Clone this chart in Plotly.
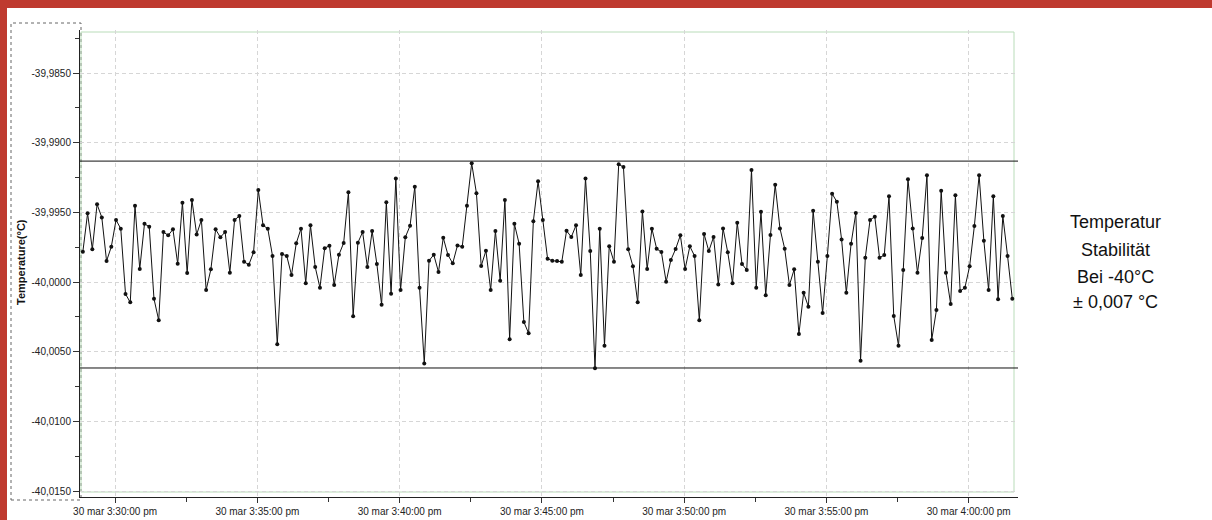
import pandas as pd
import plotly.graph_objects as go

# ---------------- data ----------------
temps = [
    -39.99783, -39.99507, -39.99765, -39.99442, -39.99536, -39.99849, -39.99747, -39.99555, -39.99617, -40.00086,
    -40.00146, -39.99452, -39.99907, -39.99582, -39.99603, -40.00120, -40.00275, -39.99641, -39.99665, -39.99622,
    -39.99869, -39.99431, -39.99935, -39.99411, -39.99658, -39.99555, -40.00057, -39.99909, -39.99622, -39.99679,
    -39.99641, -39.99933, -39.99555, -39.99526, -39.99854, -39.99876, -39.99787, -39.99340, -39.99593, -39.99617,
    -39.99813, -40.00447, -39.99799, -39.99813, -39.99950, -39.99722, -39.99617, -40.00009, -39.99593, -39.99892,
    -40.00041, -39.99758, -39.99739, -40.00022, -39.99804, -39.99720, -39.99356, -40.00246, -39.99718, -39.99641,
    -39.99892, -39.99634, -39.99871, -40.00163, -39.99428, -40.00084, -39.99256, -40.00057, -39.99679, -39.99596,
    -39.99316, -40.00041, -40.00584, -39.99847, -39.99804, -39.99928, -39.99682, -39.99806, -39.99866, -39.99737,
    -39.99747, -39.99452, -39.99148, -39.99363, -39.99885, -39.99775, -40.00057, -39.99634, -39.99991, -39.99411,
    -40.00411, -39.99582, -39.99725, -40.00287, -40.00368, -39.99564, -39.99277, -39.99555, -39.99833, -39.99847,
    -39.99849, -39.99854, -39.99632, -39.99677, -39.99593, -39.99950, -39.99256, -39.99778, -40.00619, -39.99617,
    -40.00457, -39.99744, -39.99854, -39.99155, -39.99175, -39.99765, -39.99887, -40.00146, -39.99493, -39.99907,
    -39.99617, -39.99761, -39.99785, -39.99998, -39.99842, -39.99763, -39.99665, -39.99907, -39.99744, -39.99813,
    -40.00275, -39.99655, -39.99778, -39.99677, -40.00017, -39.99615, -39.99787, -40.00009, -39.99574, -39.99871,
    -39.99914, -39.99196, -40.00041, -39.99495, -40.00095, -39.99663, -39.99302, -39.99615, -39.99761, -40.00022,
    -39.99909, -40.00373, -40.00077, -40.00177, -39.99488, -39.99854, -40.00222, -39.99813, -39.99366, -39.99424,
    -39.99694, -40.00077, -39.99725, -39.99505, -40.00565, -39.99826, -39.99555, -39.99531, -39.99826, -39.99806,
    -39.99385, -40.00244, -40.00457, -39.99914, -39.99263, -39.99615, -39.99933, -39.99684, -39.99234, -40.00416,
    -40.00201, -39.99345, -39.99933, -40.00158, -39.99378, -40.00065, -40.00041, -39.99887, -39.99598, -39.99234,
    -39.99704, -40.00057, -39.99385, -40.00124, -39.99526, -39.99813, -40.00120,
]
sample_start = "2015-03-30 15:28:52"
sample_interval = "10s"

upper_limit = -39.99132
lower_limit = -40.00617

y_range = [-40.01543, -39.98191]
y_tick_vals = [-40.015, -40.010, -40.005, -40.000, -39.995, -39.990, -39.985]
y_tick_text = ["-40,0150", "-40,0100", "-40,0050", "-40,0000", "-39,9950", "-39,9900", "-39,9850"]

x_range = ["2015-03-30 15:28:46", "2015-03-30 16:01:44"]
x_tick_vals = ["2015-03-30 15:30:00", "2015-03-30 15:35:00", "2015-03-30 15:40:00",
               "2015-03-30 15:45:00", "2015-03-30 15:50:00", "2015-03-30 15:55:00",
               "2015-03-30 16:00:00"]
x_tick_text = ["30 mar 3:30:00 pm", "30 mar 3:35:00 pm", "30 mar 3:40:00 pm",
               "30 mar 3:45:00 pm", "30 mar 3:50:00 pm", "30 mar 3:55:00 pm",
               "30 mar 4:00:00 pm"]

y_title = "Temperature(°C)"
side_text = ["Temperatur", "Stabilität", "Bei -40°C", "± 0,007 °C"]

times = pd.date_range(sample_start, periods=len(temps), freq=sample_interval)

# ---------------- geometry ----------------
W, H = 1212, 520
L, R, T, B = 80, 194, 30, 23
PW, PH = W - L - R, H - T - B


def px_x(x):
    return (x - L) / PW


def px_y(y):
    return (H - B - y) / PH


RED = "#bf3a2f"
FONT = "Liberation Sans, Arial, sans-serif"
GRID = "#d6d6d6"

fig = go.Figure()
fig.add_trace(go.Scatter(
    x=times, y=temps, mode="lines+markers",
    line=dict(color="#111111", width=1),
    marker=dict(color="#111111", size=4),
    hoverinfo="skip", showlegend=False,
))

shapes = [
    dict(type="rect", xref="paper", yref="paper",
         x0=px_x(7), x1=px_x(W + 20), y0=px_y(H + 20), y1=px_y(8),
         fillcolor="white", line=dict(width=0), layer="below"),
    dict(type="rect", xref="paper", yref="paper",
         x0=px_x(11), x1=px_x(81), y0=px_y(500), y1=px_y(23),
         line=dict(color="#666666", width=1, dash="dot"), layer="below"),
    dict(type="rect", xref="paper", yref="paper",
         x0=px_x(81), x1=px_x(1014), y0=px_y(492), y1=px_y(32),
         line=dict(color="#b9dcb9", width=1), layer="below"),
    dict(type="line", xref="paper", yref="y", x0=0, x1=1, y0=upper_limit, y1=upper_limit,
         line=dict(color="#111111", width=1)),
    dict(type="line", xref="paper", yref="y", x0=0, x1=1, y0=lower_limit, y1=lower_limit,
         line=dict(color="#111111", width=1)),
]

annotations = [
    dict(text="<b>%s</b>" % y_title, xref="paper", yref="paper",
         x=px_x(21), y=px_y(262), textangle=-90, showarrow=False,
         xanchor="center", yanchor="middle",
         font=dict(family=FONT, size=11, color="#111111")),
]
side_y = [222, 250, 277, 302]
for txt, yy in zip(side_text, side_y):
    annotations.append(dict(
        text=txt, xref="paper", yref="paper", x=px_x(1115), y=px_y(yy),
        showarrow=False, xanchor="center", yanchor="middle",
        font=dict(family="Liberation Sans Narrow, " + FONT, size=18, color="#111111")))

fig.update_layout(
    template="none",
    width=W, height=H, autosize=False,
    margin=dict(l=L, r=R, t=T, b=B, pad=0),
    paper_bgcolor=RED, plot_bgcolor="rgba(0,0,0,0)",
    font=dict(family=FONT, size=10, color="#222222"),
    showlegend=False,
    shapes=shapes, annotations=annotations,
    xaxis=dict(
        type="date", range=x_range, automargin=False,
        tickmode="array", tickvals=x_tick_vals, ticktext=x_tick_text,
        ticks="outside", ticklen=5, tickcolor="#333333",
        showline=True, linecolor="#222222", linewidth=1,
        showgrid=True, gridcolor=GRID, griddash="4px,3px", gridwidth=1,
        zeroline=False, tickfont=dict(size=10, color="#222222"),
        minor=dict(tickmode="linear", tick0="2015-03-30 15:30:00", dtick=150000,
                   ticks="outside", ticklen=4, tickcolor="#333333", showgrid=False),
    ),
    yaxis=dict(
        range=y_range, automargin=False,
        tickmode="array", tickvals=y_tick_vals, ticktext=y_tick_text,
        ticks="outside", ticklen=6, tickcolor="#333333",
        showline=True, linecolor="#222222", linewidth=1,
        showgrid=True, gridcolor=GRID, griddash="4px,3px", gridwidth=1,
        zeroline=False, tickfont=dict(size=10, color="#222222"),
        minor=dict(tickmode="linear", tick0=-40.0, dtick=0.0025,
                   ticks="outside", ticklen=4, tickcolor="#333333", showgrid=False),
    ),
    yaxis2=dict(
        overlaying="y", side="right", range=[0, PH / 20.0], automargin=False,
        tickmode="linear", tick0=0.05, dtick=1,
        ticks="outside", ticklen=4, tickcolor="#333333",
        showticklabels=False, showgrid=False, zeroline=False,
        showline=True, linecolor="#222222", linewidth=1,
    ),
)

fig.write_html("out.html", config={"displayModeBar": False, "responsive": False},
               post_script="document.body.style.margin='0';document.body.style.overflow='hidden';")
